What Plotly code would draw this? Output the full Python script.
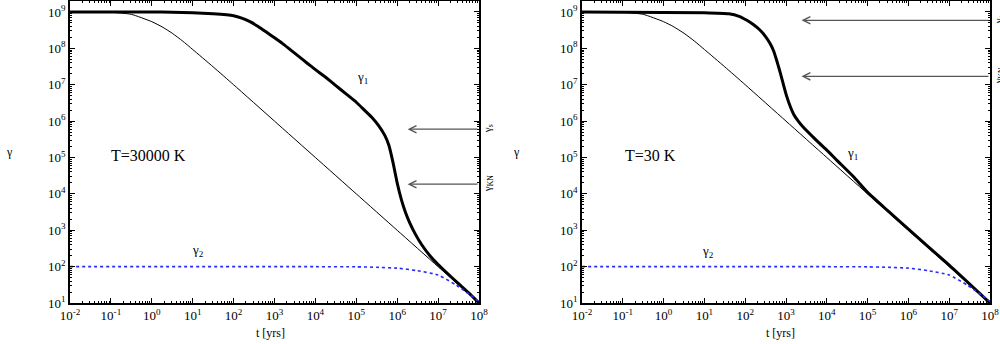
"""Electron cooling curves gamma(t) for two photon-field temperatures."""
import math

import plotly.graph_objects as go
from plotly.subplots import make_subplots

# ---- data ---------------------------------------------------------------
# thin curve (same in both panels)
t_thin = [1e-2, 1e-1, 3.16e-1, 1e0, 1.78e0, 3.16e0, 5.62e0, 1e1, 3.16e1, 1e2, 1e3, 1e4, 1e5, 1e6, 1e7, 1e8]
g_thin = [1e9, 9.8e8, 8.6e8, 5.4e8, 3.9e8, 2.6e8, 1.6e8, 9.3e7, 3.1e7, 1.0e7, 1.0e6, 1.0e5, 1.0e4,
          1.0e3, 1.0e2, 1.0e1]

# gamma_1, T = 30000 K
t_hot = [1e-2, 1e0, 3.16e0, 1e1, 3.16e1, 1e2, 1.58e2, 2.51e2, 3.98e2, 6.31e2, 1e3, 1.58e3, 2.51e3,
         3.98e3, 6.31e3, 1e4, 1.78e4, 3.16e4, 5.62e4, 1e5, 1.58e5, 2.51e5, 3.55e5, 5.01e5, 6.31e5,
         7.94e5, 1e6, 1.26e6, 1.58e6, 2.0e6, 2.82e6, 3.98e6, 6.31e6, 1e7, 1.78e7, 3.16e7, 5.62e7, 1e8]
g_hot = [1e9, 1e9, 9.85e8, 9.5e8, 8.9e8, 7.9e8, 6.8e8, 5.4e8, 4.0e8, 2.8e8, 1.95e8, 1.35e8, 8.9e7,
         5.9e7, 3.9e7, 2.6e7, 1.6e7, 9.5e6, 5.6e6, 3.3e6, 2.0e6, 1.2e6, 7.4e5, 4.0e5, 2.1e5,
         7.1e4, 2.0e4, 7.1e3, 3.2e3, 1.66e3, 7.6e2, 4.0e2, 2.0e2, 1.15e2, 62, 34, 19, 10]

# gamma_1, T = 30 K
t_cold = [1e-2, 1e1, 3.98e1, 7.08e1, 1.10e2, 1.58e2, 2.29e2, 3.16e2, 4.07e2, 5.01e2, 5.89e2, 6.76e2,
          7.76e2, 8.91e2, 1.047e3, 1.259e3, 1.514e3, 1.995e3, 2.63e3, 3.981e3, 6.761e3, 1e4,
          1.74e4, 4.47e4, 1e5, 3.16e5, 1e6, 1e7, 1e8]
g_cold = [1e9, 9.5e8, 8.9e8, 7.6e8, 5.9e8, 4.5e8, 3.2e8, 2.1e8, 1.35e8, 8.3e7, 4.7e7, 2.8e7,
          1.6e7, 8.9e6, 4.7e6, 2.6e6, 1.6e6, 1.0e6, 6.9e5, 4.3e5, 2.4e5, 1.6e5, 8.5e4, 3.0e4,
          1.1e4, 3.4e3, 1.07e3, 1.1e2, 1e1]

# gamma_2 (both panels)
t_g2 = [1e-2, 1e4, 1e5, 3.16e5, 1e6, 3e6, 1e7, 2.8e7, 6e7, 1e8]
g_g2 = [100, 100, 99, 96, 91, 78, 59, 31, 17, 11]

# characteristic Lorentz factors marked by arrows: (gamma_s, gamma_KN)
arrow_gamma_hot = [6.0e5, 1.85e4]
arrow_t_hot = 1.8e6
arrow_gamma_cold = [5.9e8, 1.7e7]
arrow_t_cold = 2.4e3

x_tick_exp = list(range(-2, 9))
y_tick_exp = list(range(1, 10))

FONT = "Liberation Serif, Times New Roman, serif"
INK = "black"

fig = make_subplots(rows=1, cols=2)

panels = [
    (1, t_hot, g_hot, arrow_gamma_hot, arrow_t_hot),
    (2, t_cold, g_cold, arrow_gamma_cold, arrow_t_cold),
]
for col, t1, g1, a_gam, a_t in panels:
    fig.add_trace(go.Scatter(x=t_thin, y=g_thin, mode="lines", line=dict(color=INK, width=1,
                             shape="spline", smoothing=0.5), showlegend=False), row=1, col=col)
    fig.add_trace(go.Scatter(x=t1, y=g1, mode="lines", line=dict(color=INK, width=3,
                             shape="spline", smoothing=0.4), showlegend=False), row=1, col=col)
    fig.add_trace(go.Scatter(x=t_g2, y=g_g2, mode="lines", line=dict(color="#2a2aff", width=1.6,
                             dash="dot", shape="spline", smoothing=0.5), showlegend=False),
                  row=1, col=col)
    xr = "x" if col == 1 else "x2"
    yr = "y" if col == 1 else "y2"
    for gam, lab in zip(a_gam, ["γ<sub>s</sub>", "γ<sub>KN</sub>"]):
        fig.add_annotation(x=math.log10(a_t), y=math.log10(gam), ax=8, ay=math.log10(gam),
                           xref=xr, yref=yr, axref=xr, ayref=yr, showarrow=True,
                           arrowhead=5, arrowsize=1.1, arrowwidth=1.3, arrowcolor="#555555", text="")
        fig.add_annotation(x=1.0, y=math.log10(gam), xref=f"{xr} domain", yref=yr, text=lab,
                           showarrow=False, textangle=-90, xanchor="left", yanchor="middle",
                           xshift=0, font=dict(family=FONT, size=11, color=INK))

tickvals_x = [10 ** e for e in x_tick_exp]
ticktext_x = [f"10<sup>{e}</sup>" for e in x_tick_exp]
tickvals_y = [10 ** e for e in y_tick_exp]
ticktext_y = [f"10<sup>{e}</sup>" for e in y_tick_exp]

axis_common = dict(type="log", showline=True, linecolor=INK, linewidth=1.6, mirror="ticks",
                   ticks="inside", ticklen=5, tickwidth=1, tickcolor=INK, showgrid=False,
                   zeroline=False, automargin=False,
                   tickfont=dict(family=FONT, size=13, color=INK),
                   minor=dict(ticks="inside", ticklen=2.5, tickwidth=1, tickcolor=INK,
                              dtick="D1", showgrid=False))
fig.update_xaxes(range=[-2, 8], tickvals=tickvals_x, ticktext=ticktext_x, **axis_common)
fig.update_yaxes(range=[1, 9.3], tickvals=tickvals_y, ticktext=ticktext_y, **axis_common)
fig.update_layout(
    xaxis=dict(domain=[0.070, 0.479]),
    xaxis2=dict(domain=[0.582, 0.990]),
    yaxis=dict(domain=[0.119, 0.997]),
    yaxis2=dict(domain=[0.119, 0.997]),
)

# in-plot labels
labels = [
    ("x", "y", 5.14, 7.21, "γ<sub>1</sub>", 13),
    ("x", "y", -0.09, 5.06, "T=30000 K", 16),
    ("x", "y", 1.13, 2.45, "γ<sub>2</sub>", 13),
    ("x2", "y2", 4.62, 5.12, "γ<sub>1</sub>", 13),
    ("x2", "y2", -0.33, 5.06, "T=30 K", 16),
    ("x2", "y2", 1.09, 2.42, "γ<sub>2</sub>", 13),
]
for xr, yr, lx, ly, txt, size in labels:
    fig.add_annotation(x=lx, y=ly, xref=xr, yref=yr, text=txt, showarrow=False,
                       font=dict(family=FONT, size=size, color=INK))

# axis titles
for px_, py_, txt in [(0.009, 0.558, "γ"), (0.516, 0.558, "γ"),
                      (0.270, 0.032, "t [yrs]"), (0.780, 0.032, "t [yrs]")]:
    fig.add_annotation(x=px_, y=py_, xref="paper", yref="paper", text=txt, showarrow=False,
                       xanchor="center", yanchor="middle",
                       font=dict(family=FONT, size=12, color=INK))

fig.update_layout(width=1000, height=344, margin=dict(l=0, r=0, t=0, b=0),
                  paper_bgcolor="white", plot_bgcolor="white")
# drop the browser's default page margin so the figure sits at the window's corner
fig.write_html("out.html", config={"displayModeBar": False},
               post_script="document.body.style.margin='0';")
